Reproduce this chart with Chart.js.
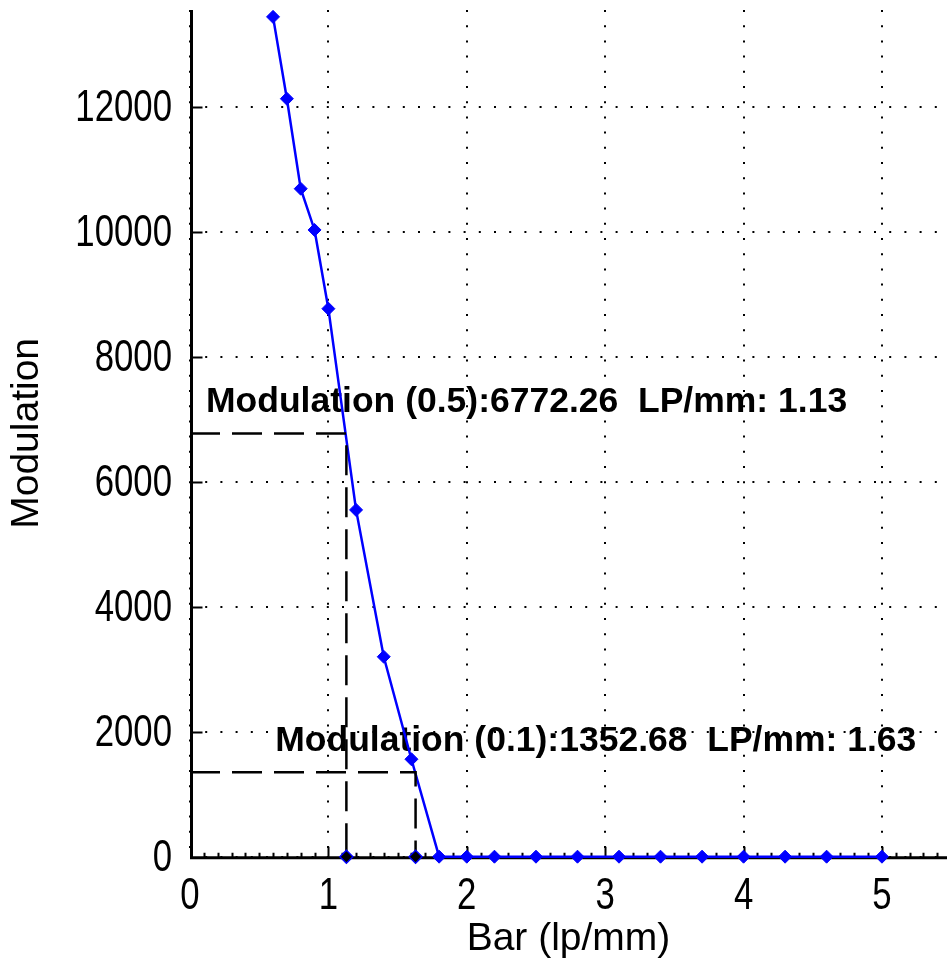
<!DOCTYPE html>
<html>
<head>
<meta charset="utf-8">
<script src="https://cdn.jsdelivr.net/npm/chart.js@4/dist/chart.umd.min.js"></script>
<style>
  html, body { margin: 0; padding: 0; background: #fff; }
  canvas { display: block; }
</style>
</head>
<body>
<canvas id="c" width="947" height="967"></canvas>
<script>
// ---- data ----
const barLpmm = [0.6, 0.7, 0.8, 0.9, 1.0, 1.2, 1.4, 1.6, 1.8, 2.0, 2.2, 2.5, 2.8, 3.1, 3.4, 3.7, 4.0, 4.3, 4.6, 5.0];
const modulation = [13440, 12130, 10690, 10030, 8770, 5550, 3200, 1560, 0, 0, 0, 0, 0, 0, 0, 0, 0, 0, 0, 0];

const mtfLevels = ['0.5', '0.1'];
const mtfModulation = [6772.26, 1352.68];
const mtfLpmm = [1.13, 1.63];

const xTickValues = [0, 1, 2, 3, 4, 5];
const yTickValues = [0, 2000, 4000, 6000, 8000, 10000, 12000];

const xTitle = 'Bar (lp/mm)';
const yTitle = 'Modulation';

// ---- build datasets ----
const curve = barLpmm.map((x, i) => ({ x: x, y: modulation[i] }));
const guideSets = mtfLevels.map((lvl, i) => ({
  label: 'MTF' + lvl,
  data: [
    { x: 0, y: mtfModulation[i] },
    { x: mtfLpmm[i], y: mtfModulation[i] },
    { x: mtfLpmm[i], y: 0 }
  ],
  borderColor: '#000',
  borderWidth: 2.5,
  borderDash: [30, 12],
  pointRadius: [0, 0, 6.5],
  pointStyle: 'rectRot',
  pointBackgroundColor: '#000',
  pointBorderColor: '#0000ff',
  pointBorderWidth: 1.5,
  showLine: true,
  clip: false,
  tension: 0
}));

const TICK_FAMILY = "'Liberation Sans', Arial, sans-serif";
const TITLE_FONT = { family: "'Liberation Sans', Arial, sans-serif", size: 39, weight: 'normal' };

function drawNarrow(ctx, text, x, y, align) {
  ctx.save();
  ctx.translate(x, y);
  ctx.scale(0.79, 1);
  ctx.textAlign = align;
  ctx.fillText(text, 0, 0);
  ctx.restore();
}

const decor = {
  id: 'decor',
  beforeDatasetsDraw(chart) {
    const ctx = chart.ctx;
    const xs = chart.scales.x, ys = chart.scales.y;
    const ca = chart.chartArea;
    ctx.save();
    // annotation texts (lines drawn over them)
    ctx.fillStyle = '#000';
    ctx.font = "bold 35.5px 'Liberation Sans', Arial, sans-serif";
    ctx.textAlign = 'left';
    ctx.textBaseline = 'middle';
    mtfLevels.forEach((lvl, i) => {
      const txt = 'Modulation (' + lvl + '):' + mtfModulation[i].toFixed(2) + '  LP/mm: ' + mtfLpmm[i].toFixed(2);
      const px = xs.getPixelForValue(mtfLpmm[i] - 1.0) - 2;
      const py = ys.getPixelForValue(mtfModulation[i] + 500);
      ctx.fillText(txt, px, py);
    });
    // axes lines
    ctx.strokeStyle = '#000';
    ctx.lineWidth = 3;
    ctx.setLineDash([]);
    const x0 = ca.left + 1.5, y0 = ca.bottom + 1;
    ctx.beginPath();
    ctx.moveTo(x0, ca.top);
    ctx.lineTo(x0, y0);
    ctx.lineTo(ca.right, y0);
    ctx.stroke();
    // tick marks
    ctx.lineWidth = 2;
    ctx.beginPath();
    for (let k = 1; k * 0.1 < xs.max; k++) {
      const v = k * 0.1;
      const px = Math.round(xs.getPixelForValue(v)) + 0.5;
      const len = (k % 10 === 0) ? 11 : 5;
      ctx.moveTo(px, y0);
      ctx.lineTo(px, y0 - len);
    }
    ys.ticks.forEach(t => {
      if (t.value === 0) return;
      const py = Math.round(ys.getPixelForValue(t.value)) + 0.5;
      ctx.moveTo(x0, py);
      ctx.lineTo(x0 + 11, py);
    });
    ctx.stroke();

    // tick labels (narrow face emulated), taken from the scales' own ticks
    ctx.fillStyle = '#000';
    ctx.font = '44px ' + TICK_FAMILY;
    ctx.textBaseline = 'alphabetic';
    xs.ticks.forEach(t => {
      drawNarrow(ctx, String(t.value), xs.getPixelForValue(t.value), ca.bottom + 52, 'center');
    });
    ys.ticks.forEach(t => {
      drawNarrow(ctx, String(t.value), ca.left - 18, ys.getPixelForValue(t.value) + 14.5, 'right');
    });
    ctx.restore();
  }
};

new Chart(document.getElementById('c'), {
  type: 'scatter',
  data: {
    datasets: [
      ...guideSets,
      {
        label: 'Modulation',
        data: curve,
        showLine: true,
        borderColor: '#0000ff',
        borderWidth: 2.5,
        pointStyle: 'rectRot',
        pointRadius: 6.5,
        pointBackgroundColor: '#0000ff',
        pointBorderColor: '#0000ff',
        pointBorderWidth: 1,
        clip: false,
        tension: 0
      }
    ]
  },
  options: {
    responsive: false,
    animation: false,
    events: [],
    layout: { autoPadding: false, padding: { top: 10, right: 0, left: 0, bottom: 0 } },
    plugins: { legend: { display: false }, tooltip: { enabled: false } },
    scales: {
      x: {
        type: 'linear',
        min: 0,
        max: 5.47,
        afterFit(s) { s.height = 110.3; },
        afterBuildTicks(s) { s.ticks = xTickValues.map(v => ({ value: v })); },
        ticks: { display: false, includeBounds: false },
        grid: { color: '#000', lineWidth: 2, drawTicks: false },
        border: { display: false, dash: [2, 13.2] },
        title: { display: true, text: xTitle, color: '#000', font: TITLE_FONT, padding: { top: 0, bottom: 4 } }
      },
      y: {
        type: 'linear',
        min: 0,
        max: 13550,
        afterFit(s) { s.width = 190; },
        afterBuildTicks(s) { s.ticks = yTickValues.map(v => ({ value: v })); },
        ticks: { display: false, includeBounds: false },
        grid: { color: '#000', lineWidth: 2, drawTicks: false },
        border: { display: false, dash: [2, 13.2] },
        title: { display: true, text: yTitle, color: '#000', font: TITLE_FONT, padding: { top: 4, bottom: 0 } }
      }
    }
  },
  plugins: [decor]
});
</script>
</body>
</html>
